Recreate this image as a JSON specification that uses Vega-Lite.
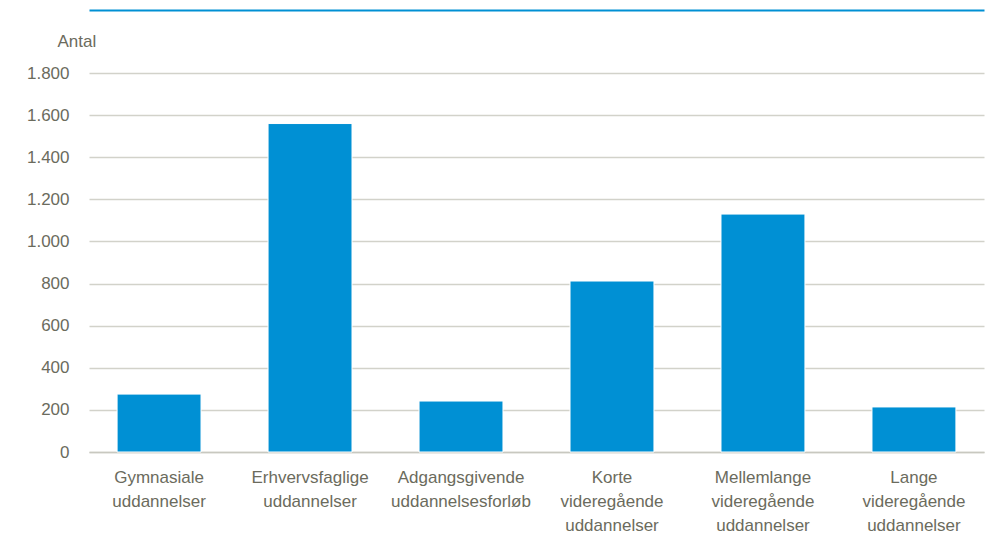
{
  "$schema": "https://vega.github.io/schema/vega-lite/v6.json",
  "autosize": "none",
  "width": 895,
  "height": 379,
  "padding": {"left": 89, "top": 73, "right": 1, "bottom": 87},
  "background": "white",
  "config": {
    "locale": {"number": {"decimal": ",", "thousands": ".", "grouping": [3], "currency": ["", " kr."]}},
    "font": "Liberation Sans",
    "view": {"stroke": null}
  },
  "data": {
    "values": [
      {"kategori": "Gymnasiale|uddannelser", "antal": 275},
      {"kategori": "Erhvervsfaglige|uddannelser", "antal": 1560},
      {"kategori": "Adgangsgivende|uddannelsesforløb", "antal": 242},
      {"kategori": "Korte|videregående|uddannelser", "antal": 812},
      {"kategori": "Mellemlange|videregående|uddannelser", "antal": 1130},
      {"kategori": "Lange|videregående|uddannelser", "antal": 214}
    ]
  },
  "layer": [
    {
      "mark": {"type": "bar", "color": "#0090d4", "stroke": "white", "strokeWidth": 1},
      "encoding": {
        "x": {
          "field": "kategori", "type": "nominal", "sort": null,
          "scale": {"paddingInner": 0.444, "paddingOuter": 0.186},
          "axis": {
            "title": null, "labelAngle": 0, "labelExpr": "split(datum.label, '|')",
            "labelFontSize": 17, "labelColor": "#6b6b5d", "labelLineHeight": 24,
            "labelPadding": 17, "ticks": false, "domainColor": "#c8c8c0", "domainWidth": 1.5,
            "labelBaseline": "top"
          }
        },
        "y": {
          "field": "antal", "type": "quantitative",
          "scale": {"domain": [0, 1800]},
          "axis": {
            "title": "Antal", "titleAngle": 0, "titleAnchor": "end", "titleAlign": "left",
            "titleX": -32, "titleY": -23, "titleFontSize": 17, "titleFontWeight": "normal", "titleColor": "#6b6b5d",
            "values": [0, 200, 400, 600, 800, 1000, 1200, 1400, 1600, 1800],
            "format": ",d", "labelFontSize": 17, "labelColor": "#6b6b5d", "labelPadding": 20,
            "ticks": false, "domain": false, "gridColor": "#d2d2ca", "gridWidth": 1.5
          }
        }
      }
    },
    {
      "mark": {"type": "bar", "opacity": 0},
      "encoding": {
        "x": {
          "field": "kategori", "type": "nominal", "sort": null,
          "axis": {"orient": "top", "title": null, "labels": false, "ticks": false, "grid": false,
                   "domainColor": "#0090d4", "domainWidth": 2, "offset": 63}
        },
        "y": {"field": "antal", "type": "quantitative"}
      }
    }
  ],
  "resolve": {"axis": {"x": "independent"}}
}
